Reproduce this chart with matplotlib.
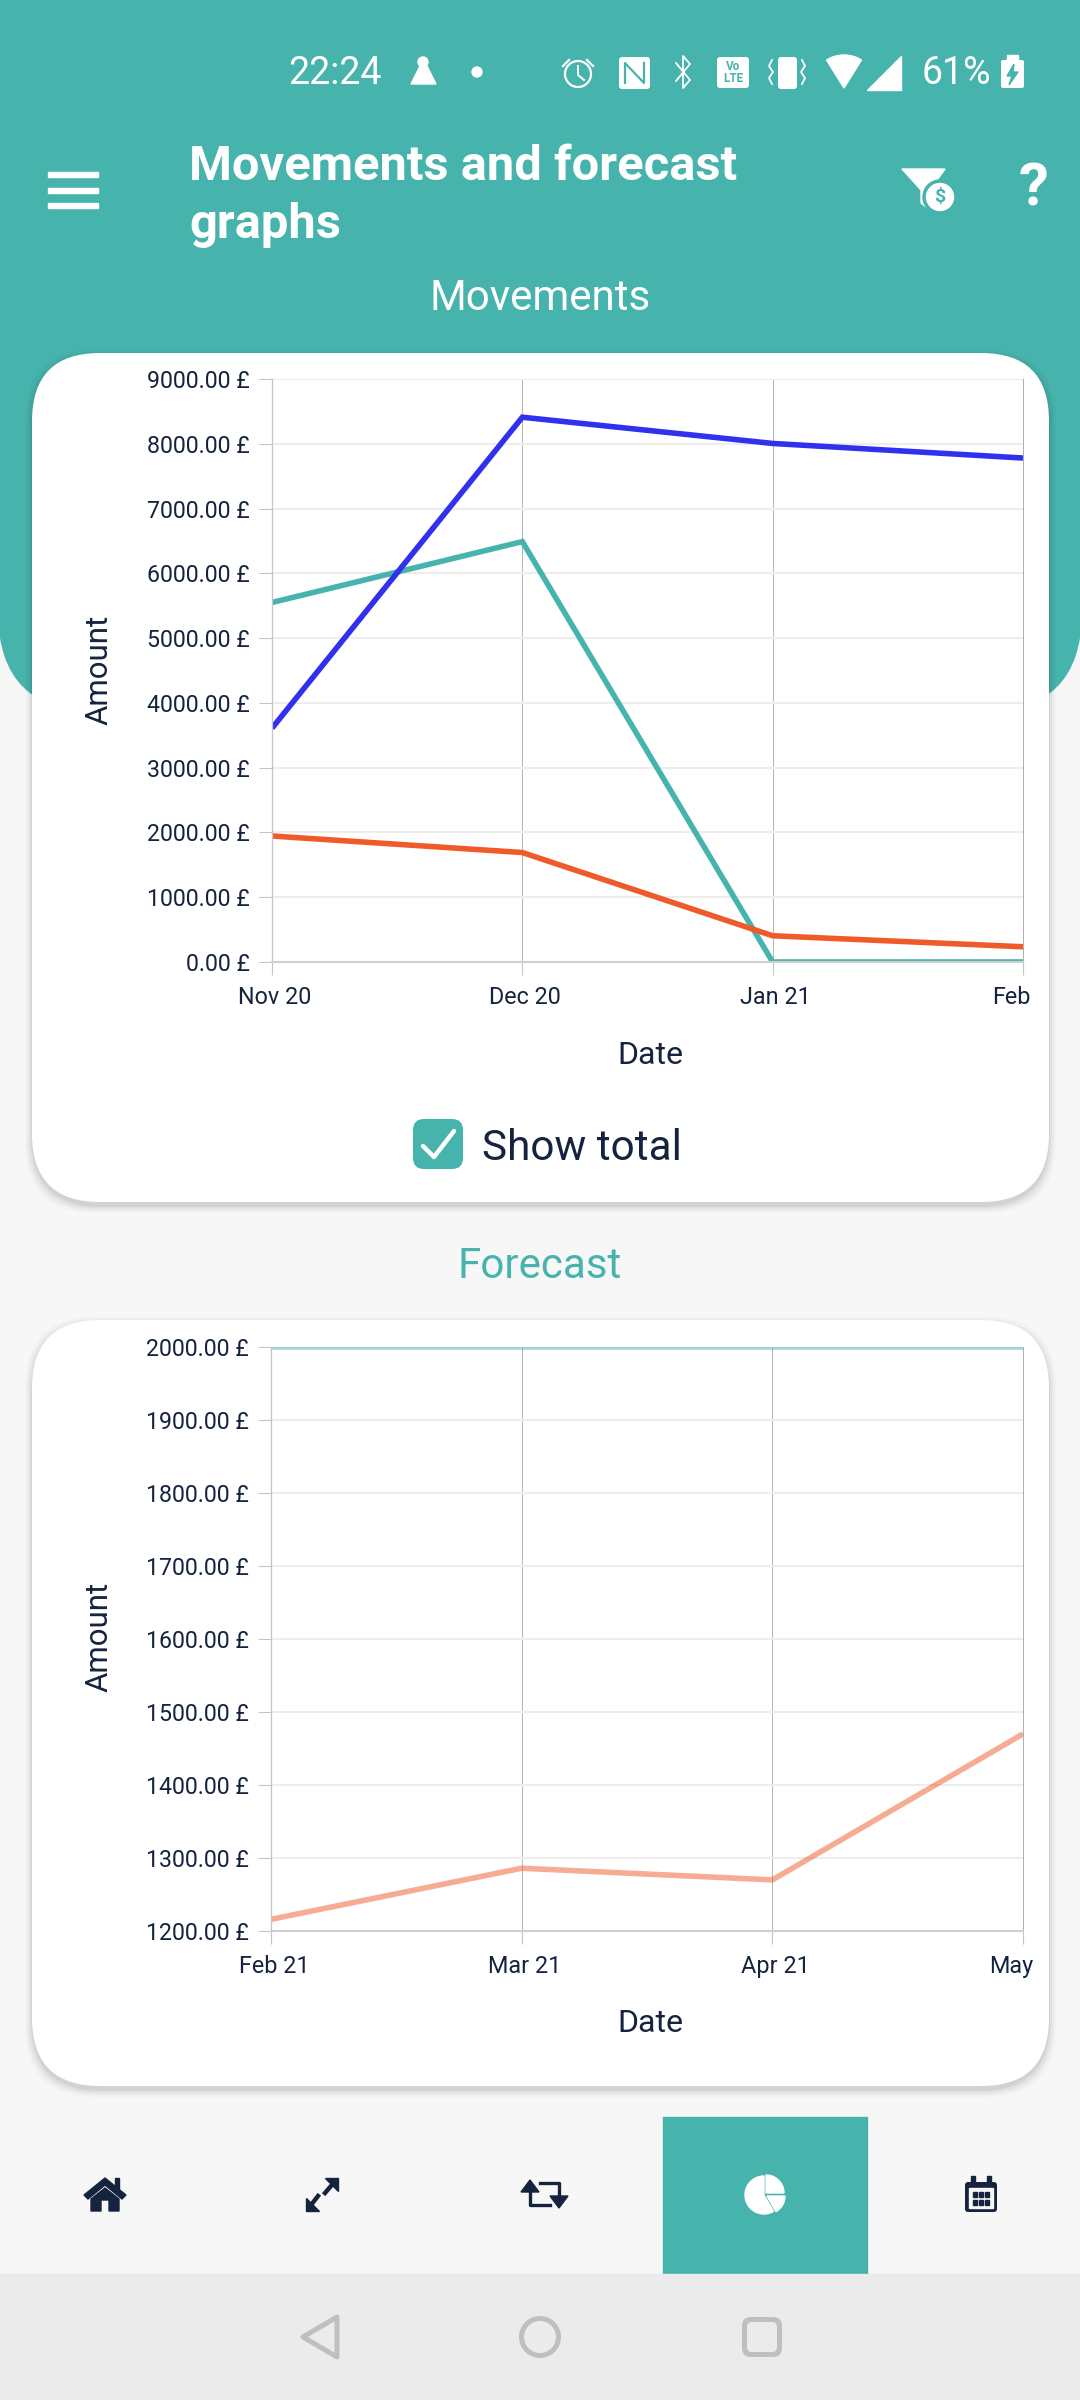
import matplotlib
matplotlib.use('Agg')
import matplotlib.pyplot as plt
from matplotlib.patches import Circle, Ellipse, FancyBboxPatch, Polygon, Rectangle, Wedge
from matplotlib.transforms import ScaledTranslation

plt.rcParams['font.family'] = ['Roboto', 'DejaVu Sans']

W, H = 1080, 2400
TEAL = '#47b3ad'
ORANGE = '#ee5a29'
BLUE = '#3030ee'
DARK = '#15233f'
BACK = '#f7f7f7'

# movements chart
move_dates = ['Nov 20', 'Dec 20', 'Jan 21', 'Feb']
move_blue = [3610, 8410, 8005, 7780]
move_teal = [5550, 6490, 0, 0]
move_orange = [1945, 1690, 405, 235]
move_ticks = [0, 1000, 2000, 3000, 4000, 5000, 6000, 7000, 8000, 9000]

# forecast chart
fore_dates = ['Feb 21', 'Mar 21', 'Apr 21', 'May']
fore_teal = [2000, 2000, 2000, 2000]
fore_orange = [1216, 1286, 1270, 1470]
fore_ticks = [1200, 1300, 1400, 1500, 1600, 1700, 1800, 1900, 2000]


def rbox(ax, x0, y0, x1, y1, r, **options):
    box = FancyBboxPatch((x0 + r, y0 + r), x1 - x0 - 2 * r, y1 - y0 - 2 * r,
                         boxstyle='round,pad=%f,rounding_size=%f' % (r, r), lw=0, **options)
    ax.add_patch(box)


def card(ax, x0, y0, x1, y1):
    # soft shadow, then the white face
    for grow, alpha in [(7, 0.02), (5, 0.03), (3, 0.04), (1, 0.06)]:
        rbox(ax, x0 - grow, y0 - grow + 4, x1 + grow, y1 + grow + 4, 70, color='black', alpha=alpha)
    rbox(ax, x0, y0, x1, y1, 68, color='white')


def line_chart(rect, dates, series, ticks, ylim):
    left, top, right, bottom = rect
    ax = fig.add_axes([left / W, 1 - bottom / H, (right - left) / W, (bottom - top) / H])
    ax.set_facecolor('none')
    xs = range(len(dates))
    for values, color, alpha in series:
        ax.plot(xs, values, color=color, alpha=alpha, lw=4, solid_joinstyle='miter',
                solid_capstyle='butt', zorder=2)
    ax.set_xlim(0, len(dates) - 1)
    ax.set_ylim(*ylim)
    ax.set_axisbelow(True)
    ax.set_xticks(list(xs))
    ax.set_xticklabels(dates, fontsize=16.8, color=DARK)
    ax.set_yticks(ticks)
    ax.set_yticklabels(['%.2f £' % t for t in ticks], fontsize=16.7, color=DARK)
    ax.tick_params(axis='both', length=9.5, width=0.8, color='#c4c4c4')
    ax.tick_params(axis='x', pad=8)
    ax.tick_params(axis='y', pad=6.5)
    ax.grid(axis='y', color='#ededed', lw=1.5)
    ax.grid(axis='x', color='#aeaeae', lw=0.65)
    ax.spines['top'].set_visible(False)
    ax.spines['left'].set_color('#c4c4c4')
    ax.spines['left'].set_linewidth(0.9)
    ax.spines['right'].set_color('#aeaeae')
    ax.spines['right'].set_linewidth(0.7)
    ax.spines['bottom'].set_color('#cfcfcf')
    ax.spines['bottom'].set_linewidth(1.5)
    # labels sit a little right of their ticks, the cut last one a little left
    labels = ax.get_xticklabels()
    for lab, dx in zip(labels, [3, 3, 3, -12]):
        lab.set_transform(lab.get_transform() + ScaledTranslation(dx / 100, 0, fig.dpi_scale_trans))
    return ax


fig = plt.figure(figsize=(W / 100, H / 100), dpi=100, facecolor=BACK)
bg = fig.add_axes([0, 0, 1, 1])
bg.set_xlim(0, W)
bg.set_ylim(H, 0)
bg.axis('off')

# teal header with rounded bottom corners
rbox(bg, -2, -200, W + 2, 712, 100, color=TEAL)

# status bar
bg.text(335, 73, '22:24', color='white', fontsize=27, ha='center', va='center')
bg.text(956, 73, '61%', color='white', fontsize=27, ha='center', va='center')
bg.add_patch(Circle((423, 62), 5, color='white'))
bg.add_patch(Polygon([(420, 66), (427, 66), (436, 84), (411, 84)], color='white'))
bg.add_patch(Circle((477, 72), 5, color='white'))
bg.add_patch(Circle((578, 74), 13, fill=False, ec='white', lw=1.6))
bg.plot([578, 578, 584], [66, 75, 80], color='white', lw=1.4)
bg.plot([563, 569], [66, 60], color='white', lw=1.6)
bg.plot([587, 593], [60, 66], color='white', lw=1.6)
rbox(bg, 619, 57, 650, 89, 3, color='white')
bg.plot([625, 625, 644, 644], [83, 63, 83, 63], color=TEAL, lw=1.6)
bg.plot([676, 690, 683, 683, 690, 676], [63, 80, 88, 56, 64, 81], color='white', lw=1.3)
rbox(bg, 717, 57, 749, 88, 3, color='white')
bg.text(733, 66, 'Vo', color=TEAL, fontsize=8.5, fontweight='bold', ha='center', va='center')
bg.text(733, 79, 'LTE', color=TEAL, fontsize=8.5, fontweight='bold', ha='center', va='center')
rbox(bg, 778, 57, 797, 89, 3, color='white')
bg.plot([772, 769, 773, 769, 772], [60, 66, 72, 78, 84], color='white', lw=1.3)
bg.plot([802, 805, 801, 805, 802], [60, 66, 72, 78, 84], color='white', lw=1.3)
bg.add_patch(Wedge((844, 88), 33, 238, 302, color='white'))
bg.add_patch(Polygon([(901, 56), (901, 90), (867, 90)], color='white'))
rbox(bg, 1001, 60, 1024, 88, 2, color='white')
bg.add_patch(Rectangle((1007, 55), 11, 6, color='white'))
bg.add_patch(Polygon([(1014, 64), (1007, 76), (1012, 76), (1009, 85), (1018, 72), (1013, 72)], color=TEAL))

# toolbar
for y in [174, 190, 205]:
    bg.add_patch(Rectangle((48, y - 2.5), 50, 5, color='white'))
bg.text(189, 167, 'Movements and forecast', color='white', fontsize=35.2, fontweight='bold',
        ha='left', va='center')
bg.text(189, 225, 'graphs', color='white', fontsize=35.2, fontweight='bold', ha='left', va='center')
bg.add_patch(Polygon([(902, 169), (945, 169), (930, 190), (930, 210), (921, 203), (921, 190)], color='white'))
bg.add_patch(Circle((940, 197), 17, color=TEAL))
bg.add_patch(Circle((940, 197), 13.5, color='white'))
bg.text(940, 197, '$', color=TEAL, fontsize=14, fontweight='bold', ha='center', va='center')
bg.text(1034, 189, '?', color='white', fontsize=43, fontweight='bold', ha='center', va='center')

# section titles
bg.text(540, 298, 'Movements', color='white', fontsize=30.3, ha='center', va='center')
bg.text(540, 1266, 'Forecast', color=TEAL, fontsize=30.3, ha='center', va='center')

# cards
card(bg, 32, 353, 1049, 1202)
card(bg, 32, 1320, 1049, 2086)

# charts
line_chart((272, 379, 1023, 962), move_dates,
           [(move_teal, TEAL, 1), (move_orange, ORANGE, 1), (move_blue, BLUE, 1)],
           move_ticks, (0, 9000))
line_chart((271, 1347, 1023, 1931), fore_dates,
           [(fore_teal, TEAL, 0.5), (fore_orange, ORANGE, 0.5)],
           fore_ticks, (1200, 2000))

for y_amount, y_date in [(670, 1055), (1637, 2023)]:
    bg.text(99, y_amount, 'Amount', color=DARK, fontsize=22.5, rotation=90, ha='center', va='center')
    bg.text(650, y_date, 'Date', color=DARK, fontsize=23, ha='center', va='center')

# show total checkbox
rbox(bg, 413, 1119, 463, 1169, 11, color=TEAL)
bg.plot([423, 434, 454], [1146, 1157, 1131], color='white', lw=3.2, solid_capstyle='round')
bg.text(482, 1148, 'Show total', color=DARK, fontsize=30.4, ha='left', va='center')

# bottom navigation
bg.add_patch(Rectangle((663, 2117), 204, 157, color=TEAL))
# home
bg.add_patch(Polygon([(84, 2195), (105, 2178), (126, 2195), (122, 2199), (105, 2185), (88, 2199)], color=DARK))
bg.add_patch(Polygon([(91, 2199), (105, 2188), (119, 2199), (119, 2211), (109, 2211), (109, 2200),
                      (101, 2200), (101, 2211), (91, 2211)], color=DARK))
bg.add_patch(Rectangle((115, 2178), 4, 12, color=DARK))
# expand arrows, two pieces with a gap in the middle
bg.add_patch(Polygon([(325, 2178), (338, 2178), (338, 2191)], color=DARK))
bg.plot([325, 331], [2193, 2186], color=DARK, lw=3.2)
bg.add_patch(Polygon([(306, 2198), (306, 2211), (319, 2211)], color=DARK))
bg.plot([311, 318], [2205, 2196], color=DARK, lw=3.2)
# repost arrows
bg.plot([530, 530, 550], [2188, 2205, 2205], color=DARK, lw=2.4)
bg.plot([540, 559, 559], [2183, 2183, 2200], color=DARK, lw=2.4)
bg.add_patch(Polygon([(521, 2192), (530, 2180), (539, 2192)], color=DARK))
bg.add_patch(Polygon([(550, 2196), (559, 2208), (568, 2196)], color=DARK))
# pie, angles run clockwise because the y axis is flipped
bg.add_patch(Wedge((764, 2195), 19, 60, 270, color='white'))
bg.add_patch(Wedge((766, 2193), 18, 270, 360, color='white'))
bg.add_patch(Wedge((767, 2196), 18, 0, 60, color='white'))
# calendar
rbox(bg, 965, 2182, 997, 2212, 3, color=DARK)
bg.add_patch(Rectangle((971, 2176), 4, 8, color=DARK))
bg.add_patch(Rectangle((987, 2176), 4, 8, color=DARK))
bg.add_patch(Rectangle((969, 2188), 24, 20, color=BACK))
for cx in [975, 981, 987]:
    for cy in [2194, 2202]:
        bg.add_patch(Rectangle((cx - 2, cy - 2.5), 4, 5, color=DARK))

# android nav bar
bg.add_patch(Rectangle((0, 2274), W, 126, color='#ebebeb'))
bg.add_patch(Polygon([(303, 2337), (337, 2317), (337, 2357)], closed=True, fill=False,
                     ec='#bfbfbf', lw=3.6, joinstyle='round'))
bg.add_patch(Ellipse((540, 2337), 37, 37, fill=False, ec='#bfbfbf', lw=3.6))
rbox(bg, 742, 2317, 782, 2357, 9, color='#bfbfbf')
rbox(bg, 747, 2322, 777, 2352, 5, color='#ebebeb')

fig.savefig('out.png', dpi=100, facecolor=fig.get_facecolor())
